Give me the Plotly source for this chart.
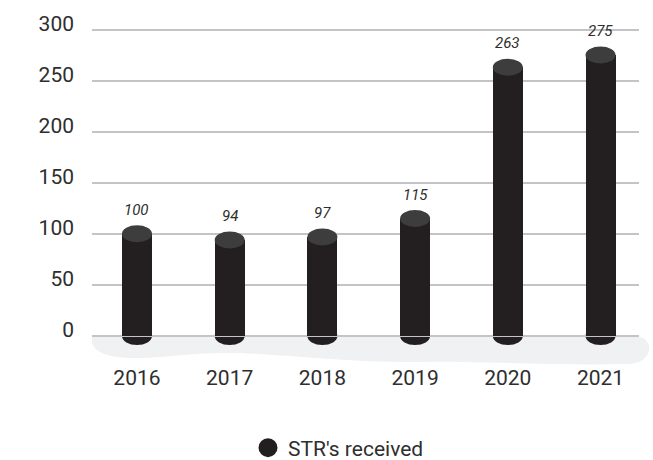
import plotly.graph_objects as go

# Suspicious transaction reports received per year
years = ["2016", "2017", "2018", "2019", "2020", "2021"]
received = [100, 94, 97, 115, 263, 275]
series_name = "STR's received"
y_ticks = [0, 50, 100, 150, 200, 250, 300]

W, H = 653, 460
ML, MR, MT, MB = 92, 14, 20, 93
PW, PH = W - ML - MR, H - MT - MB

BODY = "#231f20"
CAP = "#3e3d3d"
GRID = "#c4c4c6"
FLOOR = "#f0f1f3"
TEXT = "#2e2e2e"

xs = list(range(len(years)))
bar_w = 0.324

fig = go.Figure()
fig.add_trace(go.Bar(
    x=xs, y=received, width=bar_w, marker=dict(color=BODY, line=dict(width=0)),
    showlegend=False, hoverinfo="x+y",
))
# legend entry with a round swatch
fig.add_trace(go.Scatter(
    x=[None], y=[None], mode="markers", name=series_name,
    marker=dict(color=BODY, size=20, symbol="circle", line=dict(color=BODY, width=3)),
))

shapes = []
annotations = []
for i, v in enumerate(received):
    # rounded base of the cylinder
    shapes.append(dict(type="circle", xref="x", yref="y", xsizemode="pixel", ysizemode="pixel",
                       xanchor=i, yanchor=0, x0=-15, x1=15, y0=-9, y1=9,
                       fillcolor=BODY, line=dict(width=0), layer="below"))
    # lighter cap on top of the cylinder
    shapes.append(dict(type="circle", xref="x", yref="y", xsizemode="pixel", ysizemode="pixel",
                       xanchor=i, yanchor=v, x0=-15, x1=15, y0=-8.5, y1=8.5,
                       fillcolor=CAP, line=dict(width=0), layer="above"))
    annotations.append(dict(x=i, y=v, xref="x", yref="y", text=str(v), showarrow=False,
                            yanchor="middle", yshift=24,
                            font=dict(family="Roboto", size=15, color=TEXT, style="italic")))


def px(xp, yp):
    # pixel position -> paper coordinates
    return (xp - ML) / PW, (H - MB - yp) / PH


def path(points):
    out = []
    for cmd, pts in points:
        coords = " ".join("%.4f,%.4f" % px(a, b) for a, b in pts)
        out.append(cmd + " " + coords)
    return " ".join(out) + " Z"


floor = path([
    ("M", [(92, 337)]),
    ("L", [(640, 337)]),
    ("C", [(653, 339), (654, 362), (630, 364)]),
    ("C", [(560, 366), (480, 361), (420, 362)]),
    ("C", [(360, 363), (300, 356), (240, 353)]),
    ("C", [(190, 352), (170, 358), (130, 358)]),
    ("C", [(100, 357), (92, 348), (92, 341)]),
])
shapes.insert(0, dict(type="path", xref="paper", yref="paper", path=floor,
                      fillcolor=FLOOR, line=dict(width=0), layer="below"))

fig.update_layout(
    width=W, height=H,
    margin=dict(l=ML, r=MR, t=MT, b=MB, pad=0),
    paper_bgcolor="white", plot_bgcolor="rgba(0,0,0,0)",
    font=dict(family="Roboto", size=21, color=TEXT),
    shapes=shapes, annotations=annotations,
    bargap=0,
    legend=dict(orientation="h", x=(248 - ML) / PW, xanchor="left",
                yref="container", y=1 - 448 / H, yanchor="middle",
                font=dict(family="Roboto", size=21, color=TEXT),
                bgcolor="rgba(0,0,0,0)"),
    xaxis=dict(range=[-0.485, 5.415], tickvals=xs, ticktext=years,
               showgrid=False, zeroline=False, showline=False, ticks="",
               ticklabelstandoff=-4,
               tickfont=dict(size=21), fixedrange=True),
    yaxis=dict(range=[-30.3, 309.3], tickvals=y_ticks, showgrid=True, gridcolor=GRID,
               gridwidth=2, zeroline=False, showline=False, ticks="",
               ticklabelstandoff=17, ticklabelshift=-6,
               tickfont=dict(size=21), fixedrange=True),
)

fig.write_html("out.html")
